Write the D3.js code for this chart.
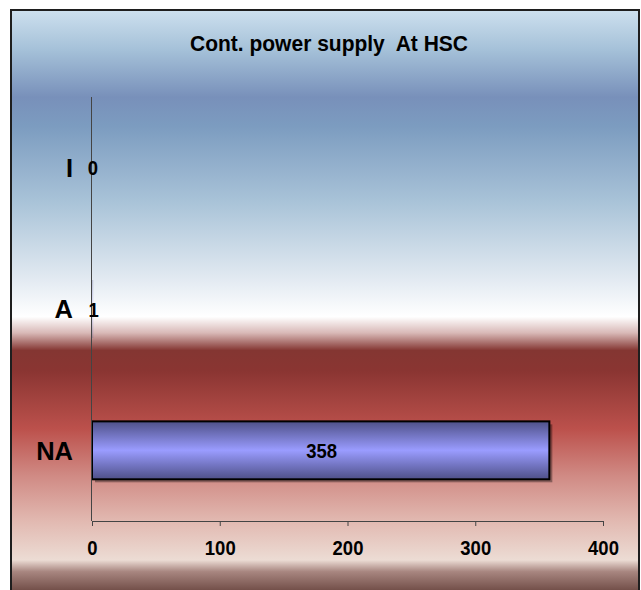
<!DOCTYPE html>
<html>
<head>
<meta charset="utf-8">
<script src="https://cdn.jsdelivr.net/npm/d3@7"></script>
<style>
  html, body { margin: 0; padding: 0; background: #fff; }
  svg { display: block; font-family: "Liberation Sans", Arial, sans-serif; }
</style>
</head>
<body>
<svg id="chart" width="641" height="590"></svg>
<script>
// Survey responses for continuous power supply at the HSC
const categories = ["I", "A", "NA"];
const values = [0, 1, 358];
const xTicks = [0, 100, 200, 300, 400];
const title = "Cont. power supply  At HSC";

const svg = d3.select("#chart");
const defs = svg.append("defs");

// Chart-area background: blue sky fading to white, then a deep red band fading to pale pink
const bg = defs.append("linearGradient")
  .attr("id", "bgGrad").attr("x1", 0).attr("y1", 0).attr("x2", 0).attr("y2", 1);
[
  [0.00, "#cde0ee"],
  [0.07, "#a4c0d8"],
  [0.15, "#7890ba"],
  [0.20, "#7c9cc0"],
  [0.33, "#a9c3d8"],
  [0.45, "#dde6ef"],
  [0.527, "#ffffff"],
  [0.555, "#d8b8b6"],
  [0.585, "#843632"],
  [0.62, "#8a3532"],
  [0.72, "#bc514c"],
  [0.80, "#d08a84"],
  [0.88, "#e2bab2"],
  [0.945, "#ecdcd4"],
  [0.965, "#a88680"],
  [1.00, "#6e4a44"]
].forEach(([o, c]) => bg.append("stop").attr("offset", o).attr("stop-color", c));

// Bar fill: dark edges with a bright lavender centre
const barGrad = defs.append("linearGradient")
  .attr("id", "barGrad").attr("x1", 0).attr("y1", 0).attr("x2", 0).attr("y2", 1);
[
  [0.00, "#4e5088"],
  [0.50, "#9a9cff"],
  [1.00, "#4e5088"]
].forEach(([o, c]) => barGrad.append("stop").attr("offset", o).attr("stop-color", c));

// Chart frame
svg.append("rect")
  .attr("x", 11).attr("y", 10).attr("width", 628).attr("height", 582)
  .attr("fill", "url(#bgGrad)")
  .attr("stroke", "#1e1e1e").attr("stroke-width", 2);

// Plot geometry
const plot = { left: 92, right: 603, top: 97, bottom: 521 };

const x = d3.scaleLinear().domain([0, 400]).range([plot.left, plot.right]);
const y = d3.scaleBand().domain(categories).range([plot.top, plot.bottom])
  .paddingInner(0.59).paddingOuter(0.295);

// Narrow-looking bold text: squeeze horizontally around the anchor point
const squeeze = 0.88;

// Title
svg.append("text")
  .attr("x", 329).attr("y", 51)
  .attr("text-anchor", "middle")
  .style("white-space", "pre")
  .attr("font-size", 22).attr("font-weight", "bold")
  .attr("textLength", 278).attr("lengthAdjust", "spacingAndGlyphs")
  .text(title);

// Bars; only bars wide enough to show get an outline and shadow
const visible = d => x(d) - x(0) > 4;
const bars = svg.append("g");
bars.selectAll("rect.shadow").data(values).join("rect")
  .attr("class", "shadow")
  .attr("x", x(0) + 3)
  .attr("y", (d, i) => y(categories[i]) + 3)
  .attr("width", d => x(d) - x(0))
  .attr("height", y.bandwidth())
  .attr("fill", "#000").attr("opacity", d => visible(d) ? 0.35 : 0);

bars.selectAll("rect.bar").data(values).join("rect")
  .attr("class", "bar")
  .attr("x", x(0))
  .attr("y", (d, i) => y(categories[i]))
  .attr("width", d => x(d) - x(0))
  .attr("height", y.bandwidth())
  .attr("fill", "url(#barGrad)")
  .attr("fill-opacity", d => visible(d) ? 1 : 0.25)
  .attr("stroke", "#000").attr("stroke-width", d => visible(d) ? 2 : 0);

// X axis
const xAxis = svg.append("g")
  .attr("transform", `translate(0,${plot.bottom})`)
  .call(d3.axisBottom(x).tickValues(xTicks).tickSize(5).tickPadding(14).tickFormat(d3.format("d")));
xAxis.select(".domain").attr("stroke", "#444").attr("stroke-width", 1);
xAxis.selectAll(".tick line").attr("stroke", "#444");
xAxis.selectAll(".tick text")
  .attr("font-size", 21).attr("font-weight", "bold").attr("fill", "#000")
  .attr("font-family", "'Liberation Sans', Arial, sans-serif")
  .attr("dy", "0.71em")
  .attr("transform", `scale(${squeeze},1)`);

// Y axis line (no ticks)
svg.append("line")
  .attr("x1", plot.left - 0.5).attr("x2", plot.left - 0.5)
  .attr("y1", plot.top).attr("y2", plot.bottom)
  .attr("stroke", "#444").attr("stroke-width", 1);

// Category labels
svg.append("g").selectAll("text").data(categories).join("text")
  .attr("transform", d => `translate(73,${y(d) + y.bandwidth() / 2})`)
  .attr("dy", "0.36em")
  .attr("text-anchor", "end")
  .attr("font-size", 25.5).attr("font-weight", "bold")
  .text(d => d);

// Value labels, centred on each bar
svg.append("g").selectAll("text").data(values).join("text")
  .attr("transform", (d, i) =>
    `translate(${(x(0) + x(d)) / 2 + 1},${y(categories[i]) + y.bandwidth() / 2}) scale(${squeeze},1)`)
  .attr("dy", "0.36em")
  .attr("text-anchor", "middle")
  .attr("font-size", 21).attr("font-weight", "bold")
  .text(d => d);
</script>
</body>
</html>
